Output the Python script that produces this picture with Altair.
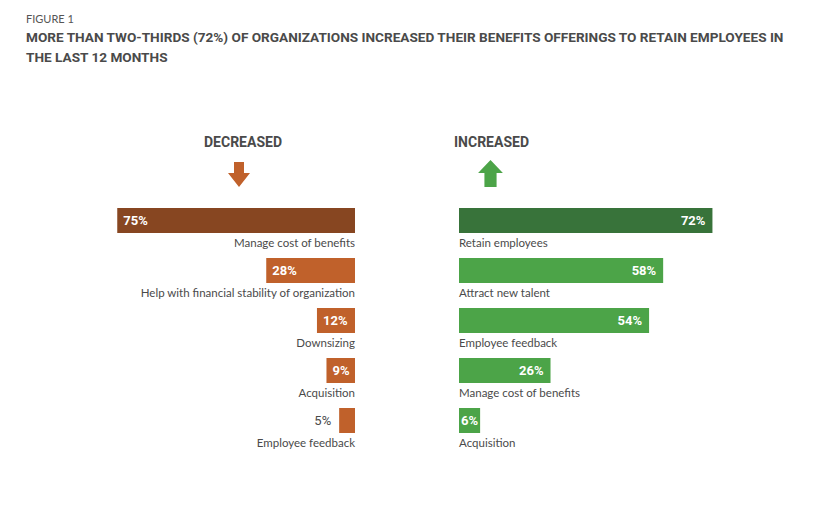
import altair as alt
import pandas as pd

dec_cats = ["Manage cost of benefits", "Help with financial stability of organization",
            "Downsizing", "Acquisition", "Employee feedback"]
dec_vals = [75, 28, 12, 9, 5]
inc_cats = ["Retain employees", "Attract new talent", "Employee feedback",
            "Manage cost of benefits", "Acquisition"]
inc_vals = [72, 58, 54, 26, 6]

COND = "Roboto, sans-serif"
BODY = "Lato, 'Open Sans', sans-serif"
GRAY = "#4a4a4a"

dec = pd.DataFrame({"cat": dec_cats, "value": dec_vals, "rank": list(range(5))})
dec["label"] = dec["value"].astype(str) + "%"
inc = pd.DataFrame({"cat": inc_cats, "value": inc_vals, "rank": list(range(5))})
inc["label"] = inc["value"].astype(str) + "%"

H = 335
yscale = alt.Scale(domain=[0, 1, 2, 3, 4], range=[70.5, 320.5], paddingInner=0, paddingOuter=0)
Y = alt.Y("rank:O", scale=yscale, axis=None)


def panel(df, xdom, reverse, dark, light, header, hx, ax, ay, arrow_path, arrow_size):
    xs = alt.Scale(domain=[0, xdom], reverse=reverse, nice=False, zero=True)
    base = alt.Chart(df)
    bars = base.mark_bar(height=25).encode(
        x=alt.X("value:Q", scale=xs, axis=None),
        y=Y,
        color=alt.condition("datum.rank == 0", alt.value(dark), alt.value(light)),
    )
    cats = base.mark_text(
        font=BODY, fontSize=11.5, color=GRAY, dy=23,
        align="right" if reverse else "left", baseline="middle",
    ).encode(x=alt.datum(0), y=Y, text="cat:N")
    if reverse:
        inside = base.transform_filter("datum.value >= 9").mark_text(
            font=COND, fontWeight="bold", fontSize=13, color="white",
            align="left", baseline="middle", dx=6,
        ).encode(x=alt.X("value:Q", scale=xs), y=Y, text="label:N")
        outside = base.transform_filter("datum.value < 9").mark_text(
            font=COND, fontSize=13, color=GRAY,
            align="right", baseline="middle", dx=-8,
        ).encode(x=alt.X("value:Q", scale=xs), y=Y, text="label:N")
    else:
        inside = base.transform_filter("datum.value >= 10").mark_text(
            font=COND, fontWeight="bold", fontSize=13, color="white",
            align="right", baseline="middle", dx=-7,
        ).encode(x=alt.X("value:Q", scale=xs), y=Y, text="label:N")
        outside = base.transform_filter("datum.value < 10").mark_text(
            font=COND, fontWeight="bold", fontSize=13, color="white",
            align="right", baseline="middle", dx=-2,
        ).encode(x=alt.X("value:Q", scale=xs), y=Y, text="label:N")
    hdr_df = pd.DataFrame({"t": [header]})
    hdr = alt.Chart(hdr_df).mark_text(
        font=COND, fontWeight="bold", fontSize=14, color=GRAY,
        align="center", baseline="middle",
    ).encode(x=alt.value(hx), y=alt.value(18), text="t:N")
    arrow = alt.Chart(hdr_df).mark_point(
        shape=arrow_path, size=arrow_size, filled=True, fill=light, opacity=1, strokeWidth=0,
    ).encode(x=alt.value(ax), y=alt.value(ay))
    return alt.layer(bars, inside, outside, cats, hdr, arrow).properties(height=H)


down = "M-0.4,-1L0.4,-1L0.4,-0.12L0.88,-0.12L0,1L-0.88,-0.12L-0.4,-0.12Z"
up = "M0,-1L0.92,-0.04L0.45,-0.04L0.45,1L-0.45,1L-0.45,-0.04L-0.92,-0.04Z"

left = panel(dec, 329 / 3.17, True, "#874621", "#c0612b", "DECREASED", 217, 213, 49.5, down, 625)
left = left.properties(width=329)
right = panel(inc, 331 / 3.52, False, "#38733a", "#4ca448", "INCREASED", 32.5, 31.5, 48.5, up, 729)
right = right.properties(width=331)

chart = alt.hconcat(left, right, spacing=99).properties(
    title=alt.Title(
        text="FIGURE 1",
        subtitle=["MORE THAN TWO-THIRDS (72%) OF ORGANIZATIONS INCREASED THEIR BENEFITS OFFERINGS TO RETAIN EMPLOYEES IN",
                  "THE LAST 12 MONTHS"],
        anchor="start", frame="group",
        font=BODY, fontSize=11, fontWeight="normal", color="#555555",
        subtitleFont=COND, subtitleFontSize=13.6, subtitleFontWeight="bold",
        subtitleColor=GRAY, subtitleLineHeight=20, subtitlePadding=6, offset=60,
    ),
    padding={"left": 18, "top": 6, "right": 5, "bottom": 5},
    background="white",
).configure_view(stroke=None)

chart.save("out.html", embed_options={"renderer": "svg", "actions": False})
